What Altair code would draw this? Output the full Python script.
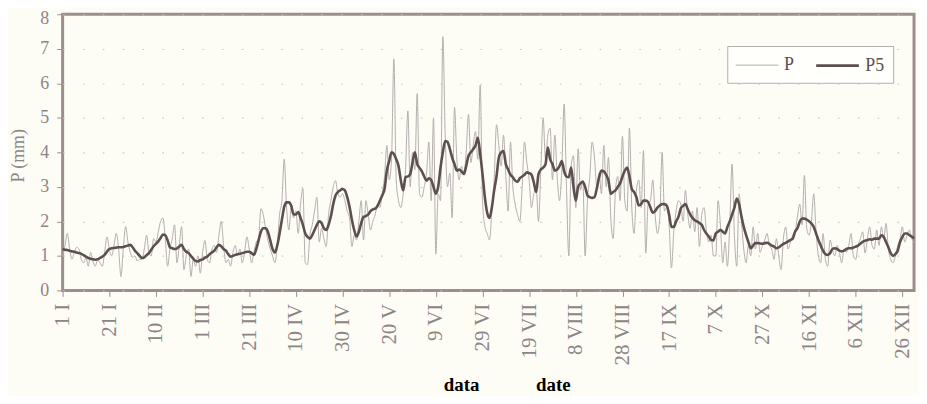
import altair as alt
import pandas as pd

TICK_LABELS = ["1 I", "21 I", "10 II", "1 III", "21 III", "10 IV", "30 IV", "20 V",
               "9 VI", "29 VI", "19 VII", "8 VIII", "28 VIII", "17 IX", "7 X",
               "27 X", "16 XI", "6 XII", "26 XII"]
TICK_DAYS = [1, 21, 41, 61, 81, 101, 121, 141, 161, 181, 201, 221, 241, 261, 281,
             301, 321, 341, 361]

# daily precipitation P (mm), 20 days per row
P = [
    1.0, 1.3, 1.65, 1.2, 0.9, 1.1, 1.25, 1.2, 0.9, 0.8, 0.95, 0.7, 1.1, 0.85, 0.7, 0.9, 0.8, 0.7, 1.1, 1.55,
    1.2, 1.0, 1.3, 1.65, 1.2, 0.4, 1.2, 1.85, 1.4, 1.1, 0.95, 1.0, 0.85, 0.9, 0.9, 1.2, 1.6, 1.1, 1.0, 1.5,
    1.4, 1.7, 2.0, 2.1, 1.5, 0.7, 1.2, 1.5, 1.9, 0.8, 1.3, 1.85, 0.6, 1.0, 1.2, 0.4, 0.9, 0.7, 1.0, 0.5,
    1.1, 1.45, 0.9, 0.8, 1.2, 1.3, 1.1, 1.6, 2.0, 1.3, 0.8, 0.9, 0.7, 1.1, 1.3, 1.0, 1.2, 0.8, 1.1, 1.55,
    1.2, 0.8, 1.1, 1.4, 1.5, 2.37, 2.2, 1.8, 1.45, 1.2, 1.0, 0.8, 1.3, 2.2, 2.6, 3.8, 2.4, 1.75, 2.4, 2.1,
    2.3, 1.65, 2.5, 2.95, 0.8, 0.75, 1.6, 1.9, 2.3, 2.7, 1.4, 1.8, 1.5, 1.27, 2.2, 2.6, 3.0, 3.18, 2.8, 2.7,
    2.8, 2.6, 2.3, 2.1, 1.27, 1.6, 1.46, 2.0, 2.6, 1.46, 2.6, 2.2, 1.75, 2.0, 2.2, 2.5, 2.4, 2.8, 3.3, 4.2,
    3.2, 3.8, 6.7, 3.2, 2.6, 2.4, 2.8, 3.5, 5.2, 3.0, 4.0, 3.5, 5.7, 2.8, 2.7, 3.0, 3.4, 4.3, 2.6, 5.0,
    1.05, 2.8, 2.6, 7.35, 4.5, 3.0, 3.4, 2.1, 5.3, 3.8, 3.2, 3.6, 3.4, 4.0, 5.1, 3.7, 4.2, 4.6, 3.8, 5.95,
    2.6, 1.85, 1.65, 1.46, 2.3, 3.2, 4.8, 4.2, 3.6, 4.5, 3.3, 2.3, 4.3, 3.0, 2.5, 2.2, 2.0, 3.0, 4.3, 3.7,
    3.2, 2.4, 2.8, 3.0, 2.0, 3.5, 5.0, 3.8, 4.5, 4.7, 3.2, 4.5, 3.3, 2.6, 3.5, 5.4, 3.0, 1.0, 3.6, 3.9,
    2.4, 4.1, 2.9, 3.2, 1.0, 2.6, 3.3, 4.3, 3.85, 3.0, 3.4, 2.8, 4.2, 3.0, 3.85, 2.1, 1.5, 2.9, 3.3, 2.6,
    4.47, 2.6, 2.3, 4.7, 2.4, 1.65, 2.9, 3.2, 2.4, 4.05, 1.08, 2.5, 2.6, 3.2, 2.2, 1.65, 2.1, 4.0, 2.3, 2.4,
    1.9, 0.65, 1.7, 2.3, 2.6, 2.5, 2.0, 2.9, 2.2, 1.8, 2.3, 1.7, 2.4, 1.27, 2.2, 2.4, 1.7, 1.4, 1.6, 1.0,
    1.0, 2.6, 1.9, 0.8, 1.4, 0.7, 1.9, 3.66, 1.6, 0.7, 2.8, 2.0, 1.2, 0.8, 1.3, 1.0, 1.84, 1.2, 1.65, 1.1,
    1.3, 1.46, 1.65, 1.3, 1.2, 0.9, 1.5, 1.0, 0.6, 1.5, 1.84, 1.2, 1.4, 1.6, 1.7, 2.13, 2.5, 1.9, 3.33, 1.8,
    1.6, 2.0, 2.8, 1.7, 1.0, 0.8, 1.65, 0.9, 0.7, 1.46, 1.2, 1.0, 1.3, 1.1, 0.8, 1.2, 1.1, 1.3, 1.65, 1.0,
    0.9, 1.3, 1.5, 1.7, 1.08, 1.5, 1.84, 1.3, 1.2, 1.75, 1.3, 1.84, 1.5, 1.94, 1.2, 0.9, 0.8, 1.0, 1.3, 1.5,
    1.84, 1.4, 1.6, 1.75, 1.5, 1.4,
]

# 5-day mean P5 (mm), 20 days per row
P5 = [
    1.2, 1.18, 1.17, 1.15, 1.13, 1.12, 1.1, 1.08, 1.06, 1.02, 0.98, 0.94, 0.92, 0.9, 0.89, 0.9, 0.94, 0.98, 1.03, 1.12,
    1.2, 1.22, 1.23, 1.24, 1.25, 1.25, 1.26, 1.28, 1.3, 1.32, 1.25, 1.15, 1.08, 1.0, 0.94, 0.96, 1.02, 1.08, 1.18, 1.28,
    1.35, 1.42, 1.52, 1.62, 1.6, 1.45, 1.25, 1.22, 1.2, 1.22, 1.27, 1.32, 1.2, 1.12, 1.08, 1.0, 0.92, 0.85, 0.84, 0.88,
    0.9, 0.95, 0.98, 1.05, 1.1, 1.15, 1.25, 1.32, 1.28, 1.2, 1.15, 1.05, 0.98, 1.0, 1.03, 1.05, 1.06, 1.08, 1.1, 1.12,
    1.12, 1.08, 1.03, 1.2, 1.45, 1.7, 1.8, 1.8, 1.7, 1.45, 1.2, 1.1, 1.3, 1.65, 2.05, 2.42, 2.55, 2.55, 2.45, 2.2,
    2.2, 2.27, 2.1, 1.9, 1.65, 1.55, 1.5, 1.6, 1.75, 1.9, 2.0, 1.95, 1.8, 1.75, 1.9, 2.15, 2.5, 2.75, 2.85, 2.9,
    2.94, 2.9, 2.7, 2.42, 2.05, 1.75, 1.56, 1.7, 1.95, 2.13, 2.15, 2.2, 2.3, 2.35, 2.37, 2.45, 2.6, 2.75, 2.94, 3.47,
    3.75, 4.0, 3.95, 3.8, 3.6, 3.18, 2.9, 3.28, 3.3, 3.37, 3.7, 4.0, 3.66, 3.55, 3.45, 3.3, 3.18, 3.25, 3.2, 3.0,
    2.8, 3.0, 3.56, 4.0, 4.33, 4.3, 4.1, 3.85, 3.66, 3.47, 3.5, 3.45, 3.37, 3.6, 3.9, 4.0, 4.09, 4.2, 4.42, 3.95,
    3.37, 2.7, 2.25, 2.1, 2.4, 2.9, 3.3, 3.85, 4.0, 4.04, 3.66, 3.5, 3.35, 3.28, 3.18, 3.15, 3.25, 3.3, 3.35, 3.42,
    3.4, 3.35, 3.13, 2.85, 3.37, 3.5, 3.56, 3.65, 4.14, 3.8, 3.66, 3.47, 3.5, 3.6, 3.75, 3.45, 3.3, 3.28, 3.56, 3.0,
    2.6, 3.0, 3.1, 3.15, 3.0, 2.75, 2.7, 2.68, 2.7, 2.95, 3.28, 3.47, 3.45, 3.35, 3.18, 2.8, 2.85, 2.9, 3.0, 3.1,
    3.3, 3.47, 3.56, 3.3, 2.94, 2.85, 2.7, 2.46, 2.5, 2.6, 2.6, 2.56, 2.4, 2.25, 2.3, 2.4, 2.46, 2.5, 2.5, 2.45,
    2.2, 1.84, 1.84, 2.0, 2.13, 2.37, 2.45, 2.5, 2.35, 2.2, 2.1, 2.03, 2.0, 1.95, 1.9, 1.75, 1.65, 1.56, 1.46, 1.45,
    1.65, 1.7, 1.75, 1.7, 1.65, 1.84, 2.0, 2.2, 2.4, 2.66, 2.5, 2.15, 1.84, 1.6, 1.4, 1.22, 1.3, 1.37, 1.37, 1.36,
    1.35, 1.37, 1.38, 1.35, 1.3, 1.27, 1.22, 1.25, 1.3, 1.35, 1.38, 1.42, 1.46, 1.5, 1.7, 1.8, 1.99, 2.08, 2.08, 2.05,
    2.0, 1.94, 1.84, 1.65, 1.46, 1.3, 1.15, 1.05, 1.03, 1.08, 1.2, 1.22, 1.2, 1.15, 1.13, 1.15, 1.2, 1.22, 1.22, 1.24,
    1.27, 1.3, 1.35, 1.41, 1.44, 1.46, 1.48, 1.47, 1.5, 1.5, 1.5, 1.6, 1.55, 1.4, 1.25, 1.08, 1.0, 1.05, 1.15, 1.4,
    1.55, 1.65, 1.65, 1.6, 1.56, 1.5,
]

SERIES = ["P", "P5"]
DAYS = list(range(1, len(P) + 1))

df = pd.DataFrame({
    "day": DAYS + DAYS,
    "value": P + P5,
    "series": [SERIES[0]] * len(P) + [SERIES[1]] * len(P5),
})

label_expr = "[" + ",".join("'" + t + "'" for t in TICK_LABELS) + "][round((datum.value-1)/20)]"

FONT = "Liberation Serif"
GREY = "#8d8585"
FRAME = "#9d8e8e"

legend = alt.Legend(
    title=None, orient="none", legendX=669, legendY=32, direction="horizontal",
    symbolType="M-1,0H3.3", symbolSize=400, labelFont=FONT, labelFontSize=18,
    labelColor="#5a5050", padding=8, strokeColor="#b5adad", fillColor="#fffffb",
    columnPadding=16, labelOffset=28,
)

chart = alt.Chart(df).mark_line(interpolate="monotone").encode(
    x=alt.X("day:Q", scale=alt.Scale(domain=[1, 366], nice=False, zero=False),
            axis=alt.Axis(values=TICK_DAYS, labelExpr=label_expr, labelAngle=270,
                          labelFontSize=21,
                          title="data\u2003\u2003\u2003date", titleFont=FONT,
                          titleFontSize=19, titleFontWeight="bold", titleColor="#000000",
                          titleX=447, titleY=101, titleBaseline="alphabetic",
                          titleAlign="center", tickSize=6, labelPadding=7,
                          grid=False)),
    y=alt.Y("value:Q", scale=alt.Scale(domain=[0, 8], nice=False),
            axis=alt.Axis(values=list(range(0, 9)), title="P (mm)", titleFont=FONT,
                          titleFontSize=18, titleFontWeight="normal", titleColor=GREY,
                          titleAngle=270, titleX=-44, titleY=142, titleAlign="center",
                          titleBaseline="middle", tickSize=6, labelPadding=8,
                          labelFontSize=18,
                          labelOffset={"condition": {"test": "datum.value === 8", "value": 4}, "value": 0},
                          grid=True, gridColor="#cdc5c5", gridDash=[1.5, 18.5],
                          gridWidth=1.2)),
    color=alt.Color("series:N", scale=alt.Scale(domain=SERIES, range=["#b3adad", "#5d4f4f"]),
                    legend=legend),
    strokeWidth=alt.StrokeWidth("series:N",
                                scale=alt.Scale(type="point", domain=SERIES, range=[1.0, 2.6], padding=0),
                                legend=legend),
).properties(
    width=857, height=278,
    autosize=alt.AutoSizeParams(type="none"),
    padding={"left": 55, "top": 5, "right": 5, "bottom": 105},
    background="#fdfcf5",
).configure_view(
    stroke=FRAME, strokeWidth=3,
).configure_axis(
    domain=False, tickColor=FRAME, labelFont=FONT, labelColor=GREY,
)

chart.save("out.html", embed_options={"renderer": "svg", "actions": False})
